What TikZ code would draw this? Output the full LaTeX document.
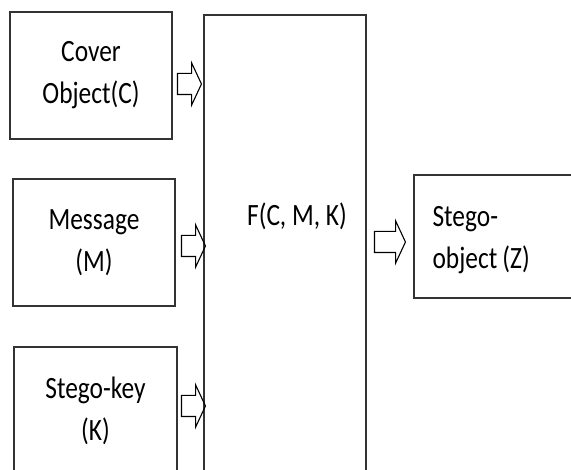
\documentclass[tikz,border=0pt]{standalone}
\usepackage{fontspec}
\setmainfont{Carlito}[FakeStretch=0.82]
\usetikzlibrary{shapes.arrows, positioning}
\tikzstyle{block}=[draw=black!80,line width=1.6pt,fill=white,rectangle,inner sep=0pt]
\tikzstyle{every node}=[font=\fontsize{31}{42}\selectfont]
\tikzstyle{fat}=[draw,single arrow,line width=1.1pt,minimum height=24pt,inner xsep=0pt,inner ysep=10pt,single arrow head extend=10.5pt,single arrow tip angle=130]

\begin{document}
\begin{tikzpicture}[x=1pt,y=-1pt]
            \useasboundingbox (0,0) rectangle (571,470);
            \clip (0,0) rectangle (571,470);
            \node[block, minimum width=162pt, minimum height=127pt, align=center] (cover) at (91,75.5) {Cover\\Object(C)};
            \node[block, minimum width=162pt, minimum height=127pt, align=center] (msg) at (94,242.5) {Message\\(M)};
            \node[block, minimum width=163pt, minimum height=128pt, align=center] (key) at (95.5,411) {Stego-key\\(K)};
            \node[block, minimum width=162pt, minimum height=465pt] (f) at (285,247.5) {};
            \node (ftext) at (297,216) {F(C, M, K)};
            \node[block, minimum width=186pt, minimum height=123pt] (z) at (507,236.5) {};
            \node[align=left, anchor=west] (ztext) at (429,240) {Stego-\\object\,(Z)};
            \node[fat] (arrC) at (187,84) {};
            \node[fat] (arrM) at (191,246) {};
            \node[fat] (arrK) at (191,406) {};
            \node[fat, minimum height=31pt] (arrZ) at (387.5,242) {};
        \end{tikzpicture}
\end{document}
